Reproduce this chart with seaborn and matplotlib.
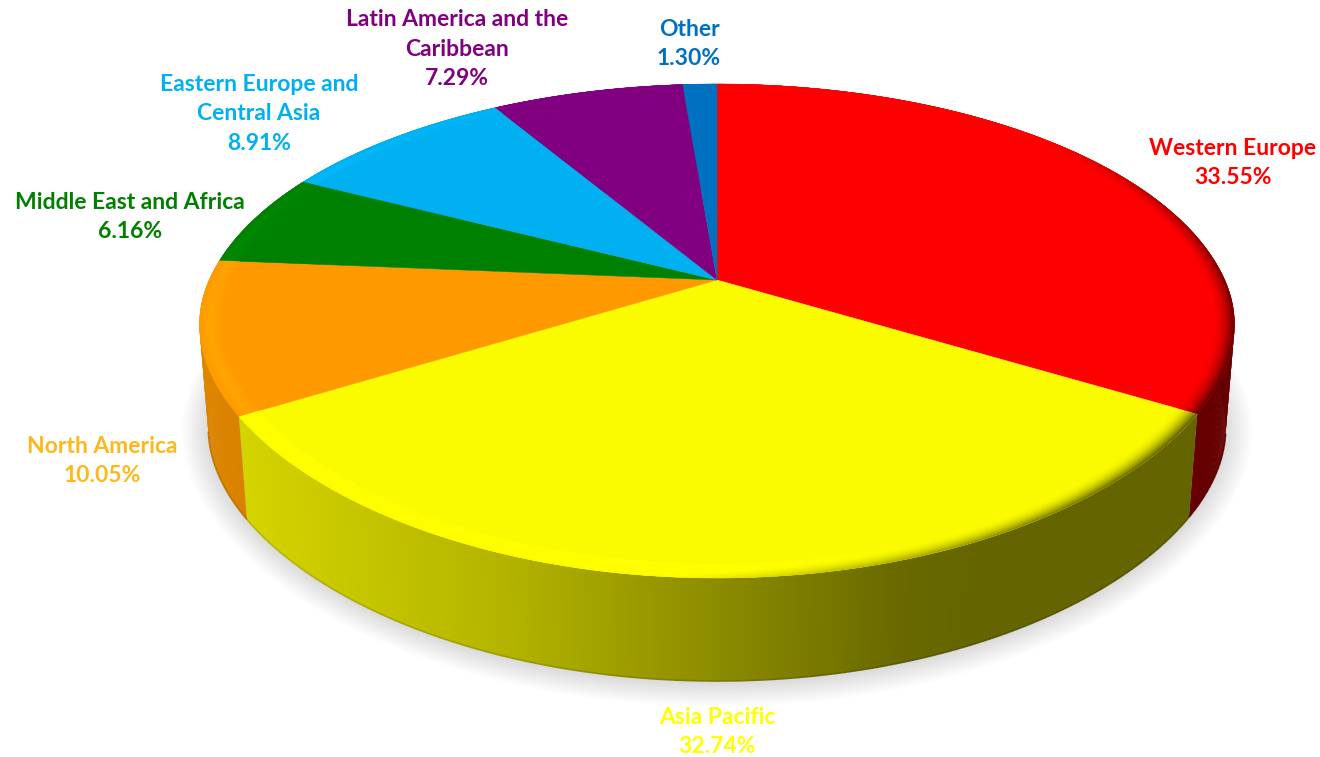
import numpy as np
import matplotlib
matplotlib.use("Agg")
import matplotlib.pyplot as plt
from matplotlib.collections import PolyCollection, LineCollection
import seaborn as sns

# Regional shares, clockwise from twelve o'clock
regions = ["Western Europe", "Asia Pacific", "North America", "Middle East and Africa",
           "Eastern Europe and\nCentral Asia", "Latin America and the\nCaribbean", "Other"]
shares = [33.55, 32.74, 10.05, 6.16, 8.91, 7.29, 1.30]
face_hex = ["#FF0000", "#FAFA00", "#FF9900", "#008000", "#00B0F0", "#800080", "#0070C0"]
label_hex = ["#FF0000", "#FFFF00", "#FFB81C", "#008000", "#00B0F0", "#800080", "#0070C0"]

# Label centres in pixels
label_x = [1233, 717, 102, 130, 259, 457, 689]
label_y = [163, 732, 461, 217, 114, 49, 44]

# Perspective disc geometry
CX, CY = 717.0, 280.0
RX, RY, TILT = 507.8, 236.5, 0.2064
WARP_Y, WARP = 331.0, 0.02
DEPTH, SHRINK = 103.0, 0.983
RIM = 0.042

sns.set_theme(style="white")
plt.rcParams["font.family"] = ["Lato", "DejaVu Sans"]
face_colors = np.array(sns.color_palette(face_hex))


def project(theta, r=1.0, lowered=False):
    u, v = r * np.sin(theta), -r * np.cos(theta)
    w = 1 - TILT * v
    x, y = CX + RX * u / w, CY + RY * v / w
    # the lower shoulders of the rim sit slightly further in than a true ellipse
    pull = 1 - WARP * r ** 4 * np.sin(2 * theta) ** 2 * (v > 0)
    x, y = CX + (x - CX) * pull, WARP_Y + (y - WARP_Y) * pull
    if lowered:
        x, y = CX + (x - CX) * SHRINK, y + DEPTH
    return x, y


def wall_shade(x):
    return np.interp(x, [200, 237, 500, 717, 900, 1000], [0.87, 0.85, 0.72, 0.56, 0.42, 0.40])


def sector_angles(i):
    return np.linspace(edges[i], edges[i + 1], max(int((edges[i + 1] - edges[i]) * 200), 3))


fig = plt.figure(figsize=(13.2, 7.57), dpi=100)
ax = fig.add_axes([0, 0, 1, 1])
ax.set_xlim(0, 1320)
ax.set_ylim(757, 0)
ax.axis("off")

# Soft ground shadow under the lower rim
ring = np.linspace(0, 2 * np.pi, 361)
bx, by = project(ring, lowered=True)
for grow in np.arange(26, 0, -1.5):
    sx = CX + (bx - CX) * (1 + grow / 505)
    sy = by.mean() + (by - by.mean()) * (1 + grow / 300) + 2
    ax.fill(sx, sy, color="black", alpha=0.009, lw=0, zorder=1)

edges = np.radians(np.cumsum([0] + shares) * 3.6)

# Outer walls, shaded from left to right; each quad overlaps the next to avoid seams
for i, col in enumerate(face_colors):
    t = sector_angles(i)
    tx, ty = project(t)
    lx, ly = project(t, lowered=True)
    n = len(t) - 1
    quads, cols = [], []
    for j in range(n):
        e = min(j + 2, n)
        quads.append([(tx[j], ty[j]), (tx[e], ty[e]), (lx[e], ly[e]), (lx[j], ly[j])])
        cols.append(col * wall_shade((tx[j] + tx[j + 1]) / 2))
    ax.add_collection(PolyCollection(quads, facecolors=cols, edgecolors="none", zorder=2))
    # darker seam along the visible bottom edge
    front = -np.cos(t) > 0.2
    segs = [[(lx[j], ly[j]), (lx[j + 1], ly[j + 1])] for j in range(n) if front[j]]
    seam = [c * 0.86 for c, f in zip(cols, front) if f]
    if segs:
        ax.add_collection(LineCollection(segs, colors=seam, linewidths=1.2, zorder=3))

# Flat top sectors
for i, col in enumerate(face_colors):
    tx, ty = project(sector_angles(i))
    ax.fill(np.r_[CX, tx], np.r_[CY, ty], color=col, lw=0.3, zorder=4)

# Bevel along the rim: lighter towards the left, darker towards the lower right
layers = np.linspace(1 - RIM, 1.0, 13)
for i, col in enumerate(face_colors):
    t = sector_angles(i)
    n = len(t) - 1
    quads, cols = [], []
    for k in range(len(layers) - 1):
        ix, iy = project(t, layers[k])
        ox, oy = project(t, layers[k + 1])
        depth = (k + 0.5) / (len(layers) - 1)
        for j in range(n):
            mid = (t[j] + t[j + 1]) / 2
            u, v = np.sin(mid), -np.cos(mid)
            dark = np.clip(-0.35 + 0.85 * u + 0.4 * v, 0, 1)
            light = np.clip(0.35 - 0.6 * u + 0.4 * v, 0, 1)
            gain = 1 + 0.07 * light * np.sin(np.pi * depth)
            shade = 1 - 1.1 * dark * depth ** 2
            e = min(j + 2, n)
            quads.append([(ix[j], iy[j]), (ix[e], iy[e]), (ox[e], oy[e]), (ox[j], oy[j])])
            cols.append(np.clip(col * gain * shade, 0, 1))
    ax.add_collection(PolyCollection(quads, facecolors=cols, edgecolors="none", zorder=5))

# Region names with their shares
for name, share, color, x, y in zip(regions, shares, label_hex, label_x, label_y):
    ax.text(x, y, f"{name}\n{share:.2f}%", color=color, ha="center", va="center",
            fontsize=16.5, fontweight="bold", linespacing=1.5, zorder=6)

fig.savefig("out.png", dpi=100, facecolor="white")
